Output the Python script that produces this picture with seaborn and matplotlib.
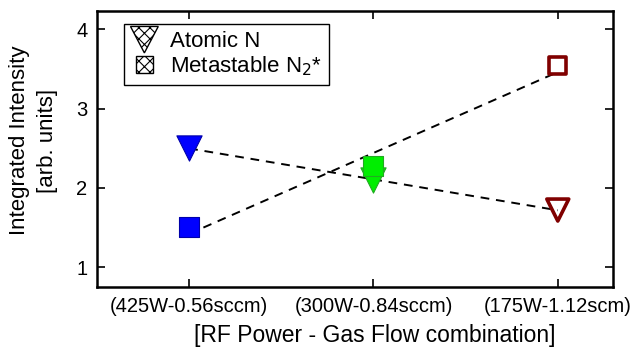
import numpy as np
import pandas as pd
import seaborn as sns
import matplotlib
matplotlib.use("Agg")
import matplotlib.pyplot as plt
from matplotlib.patches import Polygon, Rectangle
from matplotlib.legend_handler import HandlerPatch

sns.set_style("white")
plt.rcParams["font.family"] = ["Liberation Sans", "DejaVu Sans"]
plt.rcParams["hatch.linewidth"] = 0.8
for key in ["text.color", "axes.labelcolor", "xtick.color", "ytick.color"]:
    plt.rcParams[key] = "black"

conditions = ["(425W-0.56sccm)", "(300W-0.84sccm)", "(175W-1.12scm)"]
atomic_n = [2.50, 2.10, 1.72]
metastable_n2 = [1.50, 2.28, 3.54]
point_colors = ["#0000ff", "#00ee00", "#800000"]
edge_colors = ["#0000aa", "#22aa22", "#800000"]

pos = np.arange(len(conditions))
df = pd.DataFrame({"pos": pos, "atomic": atomic_n, "meta": metastable_n2})

fig = plt.figure(figsize=(6.44, 3.56), dpi=100)
ax = fig.add_axes([0.1506, 0.194, 0.8014, 0.775])

# linear trend lines through each series
for col in ["atomic", "meta"]:
    sns.regplot(data=df, x="pos", y=col, ax=ax, scatter=False, ci=None,
                line_kws=dict(color="black", lw=1.4, dashes=(4.5, 3.5)))

# measured points; the last condition is drawn hollow
for i in range(len(conditions)):
    hollow = i == len(conditions) - 1
    face = "none" if hollow else point_colors[i]
    ew = 2.6 if hollow else 0.8
    sns.scatterplot(x=[pos[i]], y=[atomic_n[i]], ax=ax, marker="v", s=330 if not hollow else 250,
                    facecolor=face, edgecolor=edge_colors[i], linewidth=ew, zorder=5)
    sns.scatterplot(x=[pos[i]], y=[metastable_n2[i]], ax=ax, marker="s", s=190 if not hollow else 150,
                    facecolor=face, edgecolor=edge_colors[i], linewidth=ew, zorder=5)

ax.set_xlim(-0.5, 2.3)
ax.set_ylim(0.75, 4.23)
ax.set_xticks(pos)
ax.set_xticklabels(conditions, fontsize=14.5)
ax.set_yticks([1, 2, 3, 4])
ax.set_yticklabels(["1", "2", "3", "4"], fontsize=14.5)
ax.tick_params(axis="both", direction="in", length=6, width=1.2, colors="black",
               top=True, right=True, bottom=True, left=True, pad=7)
for sp in ax.spines.values():
    sp.set_visible(True)
    sp.set_linewidth(1.8)
    sp.set_color("black")

ax.set_xlabel("[RF Power - Gas Flow combination]", fontsize=16.5, color="black")
ax.xaxis.set_label_coords(0.539, -0.135)
ax.set_ylabel("Integrated Intensity\n[arb. units]", fontsize=16, linespacing=1.45, color="black")
ax.yaxis.set_label_coords(-0.075, 0.53)


class TriangleHandler(HandlerPatch):
    def create_artists(self, legend, orig_handle, xdescent, ydescent, width, height, fontsize, trans):
        cx = width / 2 - xdescent
        h = height * 1.7
        w = h * 1.05
        y0 = -ydescent - 0.4 * height
        tri = Polygon([[cx - w / 2, y0 + h], [cx + w / 2, y0 + h], [cx, y0]], closed=True,
                      facecolor="white", edgecolor="black", hatch="xxx", lw=0.8)
        self.update_prop(tri, orig_handle, legend)
        tri.set_transform(trans)
        return [tri]


class SquareHandler(HandlerPatch):
    def create_artists(self, legend, orig_handle, xdescent, ydescent, width, height, fontsize, trans):
        cx = width / 2 - xdescent
        s = height * 1.05
        y0 = -ydescent + (height - s) / 2
        sq = Rectangle((cx - s / 2, y0), s, s, facecolor="white", edgecolor="black",
                       hatch="xxx", lw=0.8)
        self.update_prop(sq, orig_handle, legend)
        sq.set_transform(trans)
        return [sq]


h_tri = Polygon([[0, 0], [1, 0], [0.5, 1]], facecolor="white", edgecolor="black", hatch="xxx")
h_sq = Rectangle((0, 0), 1, 1, facecolor="white", edgecolor="black", hatch="xxx")
leg = ax.legend([h_tri, h_sq], ["Atomic N", "Metastable N$_2$*"],
                handler_map={h_tri: TriangleHandler(), h_sq: SquareHandler()},
                loc="upper left", bbox_to_anchor=(0.052, 0.953), fontsize=16,
                frameon=True, fancybox=False, edgecolor="black", framealpha=1,
                handlelength=1.25, handletextpad=0.55, borderpad=0.3, labelspacing=0.12,
                borderaxespad=0)
leg.get_frame().set_linewidth(1.0)
for t in leg.get_texts():
    t.set_color("black")

fig.savefig("out.png", dpi=100)
